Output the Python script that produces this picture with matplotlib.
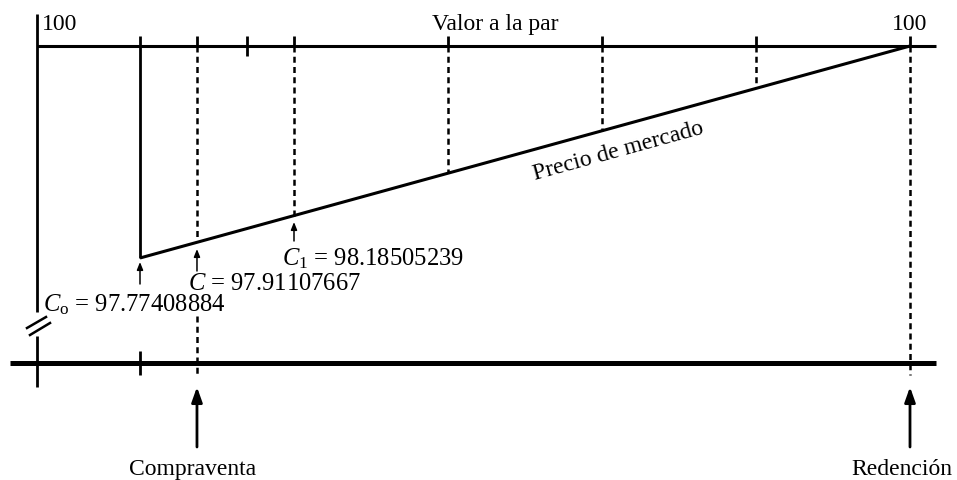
import matplotlib
matplotlib.use("Agg")
import matplotlib.pyplot as plt
import numpy as np

# ---------------- data ----------------
coupon_periods = [0, 1, 2, 3, 4, 5]          # coupon dates (periods)
sale_time = 0.37                              # Compraventa date (fraction of period)
mid_tick = 0.695                              # extra tick on par line
origin_time = -0.669                          # left axis
par_value = 100
C0 = 97.77408884
C_sale = 97.91107667
C1 = 98.18505239
labels_top = ["100", "Valor a la par", "100"]
price_label = "Precio de mercado"
bottom_labels = ["Compraventa", "Redención"]

# ---------------- layout helpers (pixel -> data) ----------------
W, H = 957, 481
PX0, PXP = 140, 154.0            # px of period 0, px per period
PY_PAR, PY_C0 = 47, 259
PPU = (PY_C0 - PY_PAR) / (par_value - C0)   # px per price unit


def X(px):
    return (px - PX0) / PXP


def Y(py):
    return par_value - (py - PY_PAR) / PPU


plt.rcParams['font.family'] = ['Liberation Serif', 'DejaVu Serif']
plt.rcParams['mathtext.fontset'] = 'custom'
plt.rcParams['mathtext.rm'] = 'Liberation Serif'
plt.rcParams['mathtext.it'] = 'Liberation Serif:italic'

fig = plt.figure(figsize=(W / 100, H / 100), dpi=100)
ax = fig.add_axes([0, 0, 1, 1])
ax.set_xlim(X(0), X(W))
ax.set_ylim(Y(H), Y(0))
ax.axis('off')

K = 'black'
LW = 2.0
DASH = (0, (2.4, 1.7))

# price line (straight, schematic)
def price_at(t):
    return C0 + (par_value - C0) * (t - coupon_periods[0]) / (coupon_periods[-1] - coupon_periods[0])

# left axis with break
ax.plot([origin_time, origin_time], [Y(15), Y(313)], color=K, lw=LW, solid_capstyle='butt')
ax.plot([origin_time, origin_time], [Y(337), Y(388)], color=K, lw=LW, solid_capstyle='butt')
ax.plot([X(27), X(46)], [Y(329), Y(318)], color=K, lw=1.8)
ax.plot([X(30), X(50)], [Y(336), Y(324)], color=K, lw=1.8)

# par line
ax.plot([origin_time, X(936)], [par_value, par_value], color=K, lw=2.2, solid_capstyle='butt')
# ticks on par line
for t in coupon_periods + [sale_time]:
    ax.plot([t, t], [Y(37), par_value], color=K, lw=LW, solid_capstyle='butt')
ax.plot([mid_tick, mid_tick], [Y(37), Y(57)], color=K, lw=LW, solid_capstyle='butt')

# solid vertical at issue
ax.plot([coupon_periods[0]] * 2, [par_value, C0], color=K, lw=LW, solid_capstyle='butt')

# market price line
ax.plot([coupon_periods[0], coupon_periods[-1]], [C0, par_value], color=K, lw=2.2,
        solid_capstyle='butt')

# dashed verticals
for t in coupon_periods[1:-1]:
    ax.plot([t, t], [par_value, price_at(t)], color=K, lw=1.8, ls=DASH)
ax.plot([sale_time] * 2, [par_value, price_at(sale_time)], color=K, lw=1.8, ls=DASH)
ax.plot([sale_time] * 2, [Y(317), Y(376)], color=K, lw=1.8, ls=DASH)
ax.plot([coupon_periods[-1]] * 2, [par_value, Y(376)], color=K, lw=1.8, ls=DASH)

# bottom time line
y_time = Y(364)
ax.plot([X(10), X(936)], [y_time, y_time], color=K, lw=3.6, solid_capstyle='butt')
ax.plot([coupon_periods[0]] * 2, [Y(352), Y(376)], color=K, lw=LW, solid_capstyle='butt')

FS = 17
FS2 = 17.7
# top texts
ax.text(X(42), Y(30), labels_top[0], fontsize=FS, ha='left', va='baseline')
ax.text(X(432), Y(30), labels_top[1], fontsize=FS, ha='left', va='baseline')
ax.text(coupon_periods[-1], Y(30), labels_top[2], fontsize=FS, ha='center', va='baseline')

# Precio de mercado (rotated along line)
ang = np.degrees(np.arctan((PY_C0 - PY_PAR) / (PXP * (coupon_periods[-1] - coupon_periods[0]))))
ax.text(X(618), Y(151), price_label, fontsize=FS, ha='center', va='center',
        rotation=ang, rotation_mode='anchor')

# value labels
ax.text(X(282), Y(265), r'$C_1$' + ' = %.8f' % C1, fontsize=FS2, ha='left', va='baseline')
ax.text(X(188), Y(290), r'$C$' + ' = %.8f' % C_sale, fontsize=FS2, ha='left', va='baseline')
ax.text(X(43), Y(311), r'$C_\mathrm{o}$' + ' = %.8f' % C0, fontsize=FS2, ha='left', va='baseline')

# small arrows
small = dict(arrowstyle='-|>,head_length=0.45,head_width=0.18', color=K, lw=1.1,
             shrinkA=0, shrinkB=0)
ax.annotate('', xy=(coupon_periods[0], Y(263)), xytext=(coupon_periods[0], Y(285)),
            arrowprops=small)
ax.annotate('', xy=(sale_time, Y(250)), xytext=(sale_time, Y(272)), arrowprops=small)
ax.annotate('', xy=(coupon_periods[1], Y(223)), xytext=(coupon_periods[1], Y(242)),
            arrowprops=small)

# big arrows
big = dict(arrowstyle='-|>,head_length=0.9,head_width=0.32', color=K, lw=2.0,
           shrinkA=0, shrinkB=0)
ax.annotate('', xy=(sale_time, Y(388)), xytext=(sale_time, Y(448)), arrowprops=big)
ax.annotate('', xy=(coupon_periods[-1], Y(388)), xytext=(coupon_periods[-1], Y(448)),
            arrowprops=big)

ax.text(X(193), Y(475), bottom_labels[0], fontsize=FS, ha='center', va='baseline')
ax.text(X(902), Y(475), bottom_labels[1], fontsize=FS, ha='center', va='baseline')

fig.savefig('out.png', dpi=100)
